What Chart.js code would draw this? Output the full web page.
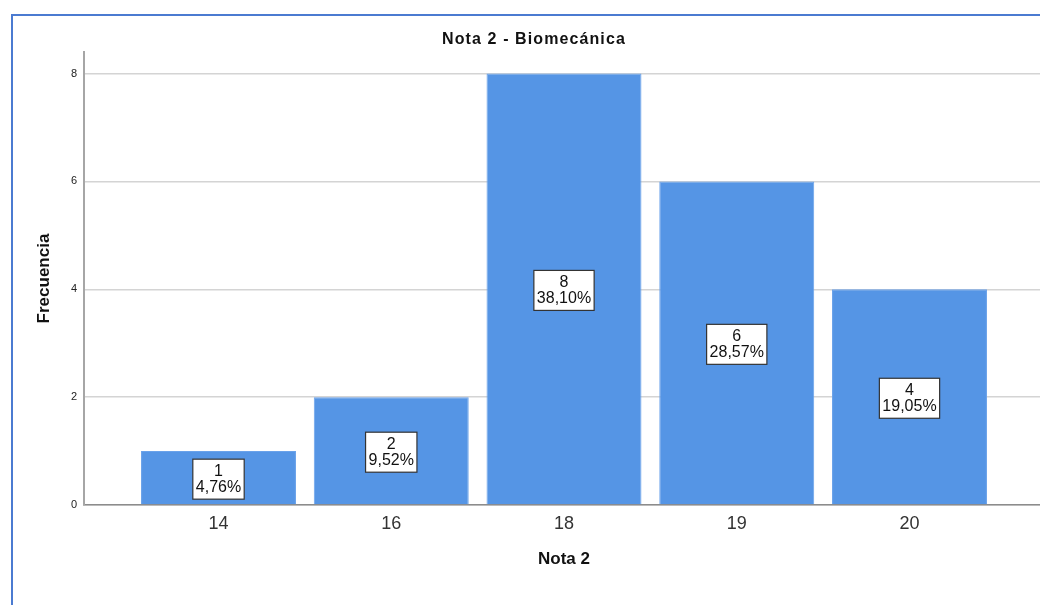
<!DOCTYPE html>
<html>
<head>
<meta charset="utf-8">
<script src="https://cdn.jsdelivr.net/npm/chart.js@4.4.1/dist/chart.umd.min.js"></script>
<style>
  html, body { margin: 0; padding: 0; background: #fff; overflow: hidden; }
  #frame {
    position: absolute; left: 11px; top: 14px; width: 1100px; height: 700px;
    border-left: 2px solid #4b7bd1; border-top: 2px solid #4b7bd1;
  }
  #chart { position: absolute; left: 0; top: 0; }
</style>
</head>
<body>
<div id="frame"></div>
<canvas id="chart" width="1068" height="605"></canvas>
<script>
const chartTitle = "Nota 2 - Biomecánica";
const categories = ["14", "16", "18", "19", "20"];
const counts = [1, 2, 8, 6, 4];
const yTicks = [0, 2, 4, 6, 8];

const FONT = '"Liberation Sans", Arial, sans-serif';
const total = counts.reduce((a, b) => a + b, 0);
const percents = counts.map(c => (c / total * 100).toFixed(2).replace(".", ",") + "%");

// SPSS style title, slightly letter-spaced
const titlePlugin = {
  id: "spssTitle",
  afterDraw(chart) {
    const ctx = chart.ctx;
    ctx.save();
    ctx.font = "bold 16px " + FONT;
    ctx.fillStyle = "#111";
    ctx.textAlign = "center";
    ctx.textBaseline = "middle";
    ctx.letterSpacing = "1.1px";
    ctx.fillText(chartTitle, chart.width / 2, 40);
    ctx.restore();
  }
};

// boxed count + percent in the middle of every bar
const barLabels = {
  id: "barLabels",
  afterDatasetsDraw(chart) {
    const ctx = chart.ctx;
    const meta = chart.getDatasetMeta(0);
    ctx.save();
    ctx.font = "16px " + FONT;
    ctx.textAlign = "center";
    ctx.textBaseline = "middle";
    meta.data.forEach((bar, i) => {
      const lines = [String(counts[i]), percents[i]];
      const w = Math.max(...lines.map(t => ctx.measureText(t).width)) + 6;
      const h = 40;
      const cx = bar.x;
      const cy = (bar.y + bar.base) / 2 + 1.5;
      ctx.fillStyle = "#fff";
      ctx.fillRect(cx - w / 2, cy - h / 2, w, h);
      ctx.strokeStyle = "#333";
      ctx.lineWidth = 1.2;
      ctx.strokeRect(cx - w / 2, cy - h / 2, w, h);
      ctx.fillStyle = "#111";
      ctx.fillText(lines[0], cx, cy - 8);
      ctx.fillText(lines[1], cx, cy + 8.5);
    });
    ctx.restore();
  }
};

new Chart(document.getElementById("chart"), {
  type: "bar",
  data: {
    datasets: [{
      data: categories.map((c, i) => ({ x: i, y: counts[i] })),
      backgroundColor: "#5595e5",
      borderColor: "#6aa2ea",
      borderWidth: 1,
      categoryPercentage: 1,
      barPercentage: 0.897
    }]
  },
  options: {
    responsive: false,
    animation: false,
    devicePixelRatio: 1,
    layout: { padding: { top: 52, right: 24, left: 0, bottom: 0 } },
    plugins: {
      legend: { display: false },
      tooltip: { enabled: false },
      title: { display: false }
    },
    scales: {
      x: {
        type: "linear",
        bounds: "data",
        min: -0.7786,
        max: 4.7786,
        offset: false,
        afterBuildTicks: s => { s.ticks = categories.map((c, i) => ({ value: i })); },
        afterFit: s => { s.height = 100; },
        grid: { display: false, drawTicks: false },
        border: { display: true, color: "#8c8c8c", width: 1.5 },
        ticks: {
          callback: v => categories[v],
          font: { family: FONT, size: 18 },
          color: "#333",
          padding: 8,
          maxRotation: 0,
          autoSkip: false
        },
        title: {
          display: true,
          text: "Nota 2",
          color: "#111",
          font: { family: FONT, size: 17, weight: "bold" },
          padding: { top: 0, bottom: 35 }
        }
      },
      y: {
        bounds: "data",
        min: 0,
        max: 8.4,
        afterBuildTicks: s => { s.ticks = yTicks.map(v => ({ value: v })); },
        afterFit: s => { s.width = 84; },
        grid: { color: "#d4d4d4", lineWidth: 1.5, drawTicks: false },
        border: { color: "#a6a6a6", width: 2 },
        ticks: { font: { family: FONT, size: 11 }, color: "#222", padding: 7 },
        title: {
          display: true,
          text: "Frecuencia",
          color: "#111",
          font: { family: FONT, size: 17, weight: "bold" },
          padding: { top: 34, bottom: 0 }
        }
      }
    }
  },
  plugins: [titlePlugin, barLabels]
});
</script>
</body>
</html>
